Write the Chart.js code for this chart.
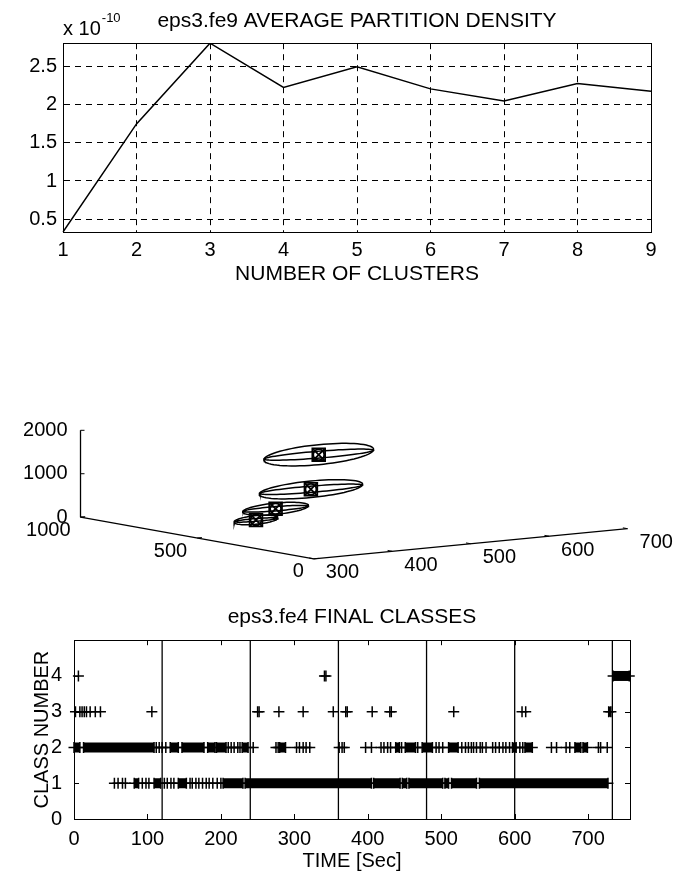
<!DOCTYPE html>
<html>
<head>
<meta charset="utf-8">
<script src="https://cdn.jsdelivr.net/npm/chart.js@4.4.0/dist/chart.umd.min.js"></script>
<style>
  html, body { margin: 0; padding: 0; background: #fff; overflow: hidden; }
  .panel { position: absolute; left: 0; }
</style>
</head>
<body>
<div class="panel" style="top:0"><canvas id="densityChart" width="679" height="300"></canvas></div>
<div class="panel" style="top:400px"><canvas id="clusterChart" width="679" height="190"></canvas></div>
<div class="panel" style="top:591px"><canvas id="classChart" width="679" height="280"></canvas></div>
<script>
/* ── Data ─────────────────────────────────────── */
// top panel: average partition density vs number of clusters (x 10^-10)
const clusterCounts = [1, 2, 3, 4, 5, 6, 7, 8, 9];
const avgDensity = [0.33, 1.75, 2.81, 2.23, 2.50, 2.21, 2.05, 2.28, 2.18];
const densityTicks = [0.5, 1, 1.5, 2, 2.5];
const densityExponent = -10;

// middle panel: 3-D view of the cluster prototypes
const axisX3d = [300, 700];
const axisY3d = [0, 1000];
const axisZ3d = [0, 2000];
const ticksX3d = [300, 400, 500, 600, 700];
const ticksY3d = [0, 500, 1000];
const ticksZ3d = [0, 1000, 2000];
const clusterCenters = [[455, 500, 1650], [445, 500, 870], [400, 500, 500], [375, 500, 285]];
const clusterSpreads = [[70, 55, 230], [66, 50, 190], [42, 34, 130], [28, 22, 100]];

// bottom panel: final class of every time sample
const classTicks = [0, 1, 2, 3, 4];
const timeTicks = [0, 100, 200, 300, 400, 500, 600, 700];
const segmentBounds = [120, 240, 360, 480, 600, 733];
const class1Runs = [[82, 88], [109, 118], [142, 153], [203, 230], [233, 405], [408, 444], [447, 453], [456, 502], [505, 510], [514, 548], [552, 727]];
const class1Marks = [55, 60, 66, 70, 93, 98, 102, 123, 127, 132, 136, 158, 161, 166, 170, 175, 180, 184, 189, 195, 200];
const class2Runs = [[0, 8], [13, 109], [131, 142], [147, 177], [182, 192], [194, 207], [229, 237], [280, 288], [438, 443], [451, 465], [474, 488], [510, 523], [597, 602], [614, 624], [682, 690], [693, 699]];
const class2Marks = [112, 116, 120, 125, 210, 214, 218, 223, 226, 244, 275, 278, 303, 307, 312, 316, 321, 361, 365, 368, 397, 405, 418, 422, 427, 431, 446, 468, 493, 497, 502, 528, 533, 537, 541, 544, 548, 553, 556, 561, 570, 574, 579, 584, 588, 593, 607, 611, 650, 657, 670, 675, 714, 717, 726];
const class3Runs = [[728, 731]];
const class3Marks = [2, 8, 11, 14, 17, 22, 29, 36, 106, 250, 252, 279, 312, 353, 370, 372, 406, 430, 432, 517, 610, 615];
const class4Runs = [[734, 756]];
const class4Marks = [6, 341, 343];

/* ── Shared look ──────────────────────────────── */
const INK = '#000';
const FONT = '"Liberation Sans", Arial, Helvetica, sans-serif';
Chart.defaults.font.family = FONT;
Chart.defaults.font.size = 20;
Chart.defaults.color = INK;
Chart.defaults.animation = false;
Chart.defaults.events = [];
Chart.defaults.plugins.legend.display = false;
Chart.defaults.plugins.tooltip.enabled = false;

// closed box round the plot area (MATLAB "box on")
const framePlugin = {
  id: 'frame',
  afterDraw(chart) {
    const { ctx, chartArea: a } = chart;
    ctx.save();
    ctx.strokeStyle = INK;
    ctx.lineWidth = 1;
    ctx.strokeRect(Math.round(a.left) + 0.5, Math.round(a.top) + 0.5, Math.round(a.right - a.left), Math.round(a.bottom - a.top));
    ctx.restore();
  }
};

/* ── Top: average partition density ──────────── */
const exponentLabel = {
  id: 'exponentLabel',
  afterDraw(chart) {
    const { ctx, chartArea: a } = chart;
    ctx.save();
    ctx.fillStyle = INK;
    ctx.textAlign = 'left';
    ctx.textBaseline = 'alphabetic';
    ctx.font = '20px ' + FONT;
    const base = 'x 10';
    ctx.fillText(base, a.left, a.top - 8);
    const w = ctx.measureText(base).width;
    ctx.font = '13px ' + FONT;
    ctx.fillText(String(densityExponent), a.left + w + 1, a.top - 21);
    ctx.restore();
  }
};

new Chart(document.getElementById('densityChart'), {
  type: 'line',
  data: {
    labels: clusterCounts.map(String),
    datasets: [{ data: avgDensity, borderColor: INK, borderWidth: 1.5, pointRadius: 0, tension: 0 }]
  },
  options: {
    responsive: false,
    layout: { padding: { left: 0, right: 28, top: 0, bottom: 0 } },
    plugins: {
      title: {
        display: true, fullSize: false, text: 'eps3.fe9 AVERAGE PARTITION DENSITY',
        font: { size: 21, weight: 'normal', lineHeight: 1.2 }, padding: { top: 9, bottom: 9 }
      }
    },
    scales: {
      x: {
        offset: false,
        grid: { color: INK, lineWidth: 1, drawTicks: false },
        border: { color: INK, width: 1, dash: [6, 5] },
        ticks: { padding: 6 },
        title: { display: true, text: 'NUMBER OF CLUSTERS', font: { size: 21 }, padding: { top: 0, bottom: 13 } },
        afterFit: s => { s.height = 68; }
      },
      y: {
        min: Math.min(...avgDensity),
        max: Math.max(...avgDensity),
        afterBuildTicks: s => { s.ticks = densityTicks.map(v => ({ value: v })); },
        grid: { color: INK, lineWidth: 1, drawTicks: false },
        border: { color: INK, width: 1, dash: [6, 5] },
        ticks: { padding: 6, callback: v => String(v) },
        afterFit: s => { s.width = 63; }
      }
    }
  },
  plugins: [framePlugin, exponentLabel]
});

/* ── Middle: 3-D cluster view ─────────────────── */
// screen pixels per data unit along each 3-D axis (fixed MATLAB view)
const VIEW = { ex: [0.81, 0.085], ey: [-0.241, 0.047], ez: [0, 0.049] };
function project(x, y, z) {
  const dx = x - axisX3d[0];
  return {
    x: dx * VIEW.ex[0] + y * VIEW.ey[0] + z * VIEW.ez[0],
    y: dx * VIEW.ex[1] + y * VIEW.ey[1] + z * VIEW.ez[1]
  };
}

function ellipse(center, r1, r2, plane) {
  const pts = [];
  for (let i = 0; i <= 72; i++) {
    const t = (i / 72) * Math.PI * 2;
    const a = Math.cos(t), b = Math.sin(t);
    if (plane === 'xy') pts.push(project(center[0] + r1 * a, center[1] + r2 * b, center[2]));
    else pts.push(project(center[0] + r1 * a, center[1], center[2] + r2 * b));
  }
  return pts;
}

const lineStyle = { showLine: true, borderColor: INK, borderWidth: 1.3, pointRadius: 0 };
const clusterSets = [];
// axes of the 3-D box
clusterSets.push({ ...lineStyle, data: [project(axisX3d[0], axisY3d[1], axisZ3d[0]), project(axisX3d[0], axisY3d[1], axisZ3d[1])] });
clusterSets.push({ ...lineStyle, data: [project(axisX3d[0], axisY3d[1], 0), project(axisX3d[0], axisY3d[0], 0)] });
clusterSets.push({ ...lineStyle, data: [project(axisX3d[0], axisY3d[0], 0), project(axisX3d[1], axisY3d[0], 0)] });
// cluster ellipses
clusterCenters.forEach((c, i) => {
  const [rx, ry, rz] = clusterSpreads[i];
  clusterSets.push({ ...lineStyle, borderWidth: 1.5, data: ellipse(c, rx, rz, 'xz') });
  clusterSets.push({ ...lineStyle, borderWidth: 1.5, data: ellipse(c, rx * 0.96, ry, 'xy') });
});
// centre markers
const centerPts = clusterCenters.map(c => project(c[0], c[1], c[2]));
['rect', 'crossRot', 'circle'].forEach((style, k) => {
  clusterSets.push({
    data: centerPts, showLine: false, pointStyle: style,
    pointRadius: k === 2 ? 5.5 : 9, pointBorderColor: INK, pointBackgroundColor: 'rgba(0,0,0,0)', pointBorderWidth: 1.8
  });
});

const axes3dLabels = {
  id: 'axes3dLabels',
  afterDraw(chart) {
    const { ctx, scales: { x, y } } = chart;
    const px = p => [x.getPixelForValue(p.x), y.getPixelForValue(p.y)];
    ctx.save();
    ctx.font = '20px ' + FONT;
    ctx.fillStyle = INK;
    ctx.strokeStyle = INK;
    ctx.lineWidth = 1;
    ctx.textBaseline = 'middle';
    ctx.beginPath();
    ctx.textAlign = 'right';
    ticksZ3d.forEach(v => {
      const [a, b] = px(project(axisX3d[0], axisY3d[1], v));
      ctx.moveTo(a, b); ctx.lineTo(a + 4, b);
      ctx.fillText(String(v), a - 13, b);
    });
    ticksY3d.forEach(v => {
      const [a, b] = px(project(axisX3d[0], v, 0));
      const [c, d] = px(project(axisX3d[0] + 6, v, 0));
      ctx.moveTo(a, b); ctx.lineTo(c, d);
      ctx.fillText(String(v), a - 10, b + 13);
    });
    ctx.textAlign = 'left';
    ticksX3d.forEach(v => {
      const [a, b] = px(project(v, 0, 0));
      const [c, d] = px(project(v, 20, 0));
      ctx.moveTo(a, b); ctx.lineTo(c, d);
      ctx.fillText(String(v), a + 12, b + 14);
    });
    ctx.stroke();
    ctx.restore();
  }
};

new Chart(document.getElementById('clusterChart'), {
  type: 'scatter',
  data: { datasets: clusterSets },
  options: {
    responsive: false,
    layout: { padding: 0 },
    scales: {
      x: { type: 'linear', display: false, min: -313, max: 366 },
      y: { type: 'linear', display: false, min: -23, max: 167 }
    }
  },
  plugins: [axes3dLabels]
});

/* ── Bottom: final classes over time ─────────── */
function runPoints(runs, level) {
  const pts = [];
  runs.forEach(([a, b]) => { pts.push({ x: a, y: level }, { x: b, y: level }, { x: b, y: null }); });
  return pts;
}
const markStyle = { showLine: false, pointStyle: 'cross', pointRadius: 5.5, pointBorderWidth: 1.5, pointBorderColor: INK, clip: false };
const runStyle = { ...markStyle, showLine: true, borderColor: INK, borderWidth: 10, borderCapStyle: 'butt', spanGaps: false };

const classSets = [];
const boundPts = [];
segmentBounds.forEach(b => { boundPts.push({ x: b, y: 0 }, { x: b, y: 5 }, { x: b, y: null }); });
classSets.push({ data: boundPts, showLine: true, borderColor: INK, borderWidth: 1.3, pointRadius: 0, spanGaps: false });
[[class1Runs, class1Marks], [class2Runs, class2Marks], [class3Runs, class3Marks], [class4Runs, class4Marks]].forEach(([runs, marks], i) => {
  const level = i + 1;
  classSets.push({ ...runStyle, data: runPoints(runs, level) });
  classSets.push({ ...markStyle, data: marks.map(t => ({ x: t, y: level })) });
});

const innerTicks = {
  id: 'innerTicks',
  afterDraw(chart) {
    const { ctx, chartArea: a, scales: { x, y } } = chart;
    ctx.save();
    ctx.strokeStyle = INK;
    ctx.lineWidth = 1;
    ctx.beginPath();
    timeTicks.forEach(v => {
      const p = Math.round(x.getPixelForValue(v)) + 0.5;
      ctx.moveTo(p, a.bottom); ctx.lineTo(p, a.bottom - 5);
      ctx.moveTo(p, a.top); ctx.lineTo(p, a.top + 5);
    });
    classTicks.forEach(v => {
      const p = Math.round(y.getPixelForValue(v)) + 0.5;
      ctx.moveTo(a.left, p); ctx.lineTo(a.left + 5, p);
      ctx.moveTo(a.right, p); ctx.lineTo(a.right - 5, p);
    });
    ctx.stroke();
    ctx.restore();
  }
};

new Chart(document.getElementById('classChart'), {
  type: 'scatter',
  data: { datasets: classSets },
  options: {
    responsive: false,
    layout: { padding: { left: 0, right: 49, top: 0, bottom: 0 } },
    plugins: {
      title: {
        display: true, fullSize: false, text: 'eps3.fe4 FINAL CLASSES',
        font: { size: 21, weight: 'normal', lineHeight: 1.2 }, padding: { top: 14, bottom: 10 }
      }
    },
    scales: {
      x: {
        type: 'linear', min: 0, max: 757,
        afterBuildTicks: s => { s.ticks = timeTicks.map(v => ({ value: v })); },
        grid: { display: false },
        border: { color: INK, width: 1 },
        ticks: { padding: 2, font: { lineHeight: 1 } },
        title: { display: true, text: 'TIME [Sec]', font: { lineHeight: 1 }, padding: { top: 0, bottom: 0 } },
        afterFit: s => { s.height = 52; }
      },
      y: {
        type: 'linear', min: 0, max: 5,
        afterBuildTicks: s => { s.ticks = classTicks.map(v => ({ value: v })); },
        grid: { display: false },
        border: { color: INK, width: 1 },
        ticks: { padding: 4 },
        title: { display: true, text: 'CLASS NUMBER', padding: { top: 30, bottom: 0 } },
        afterFit: s => { s.width = 74; }
      }
    }
  },
  plugins: [framePlugin, innerTicks]
});
</script>
</body>
</html>
